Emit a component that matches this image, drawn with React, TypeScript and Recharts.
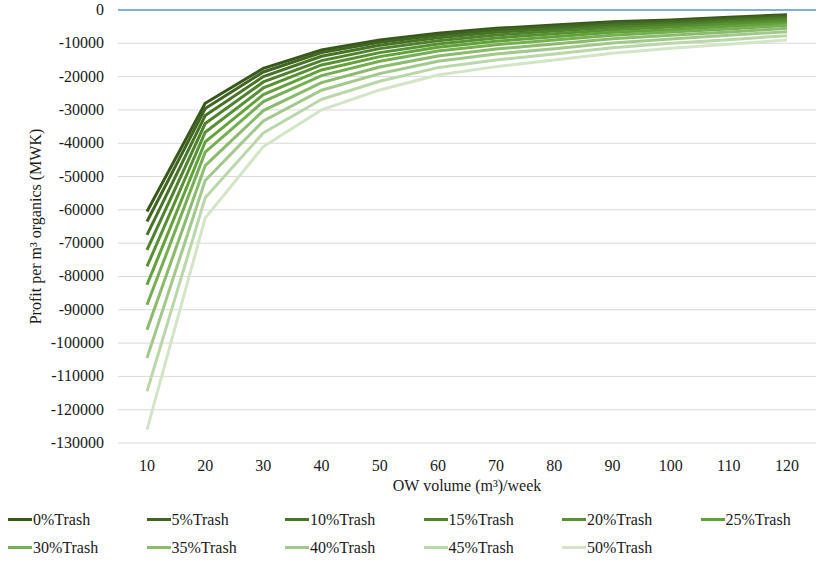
import React from 'react';
import { LineChart, Line, XAxis, YAxis, CartesianGrid, ReferenceLine } from 'recharts';

const volumes = [10, 20, 30, 40, 50, 60, 70, 80, 90, 100, 110, 120];
const seriesNames = ['0%Trash', '5%Trash', '10%Trash', '15%Trash', '20%Trash', '25%Trash', '30%Trash', '35%Trash', '40%Trash', '45%Trash', '50%Trash'];

const trash0 = [-60500, -28000, -17500, -12000, -9000, -7000, -5500, -4500, -3500, -3000, -2200, -1400];
const trash5 = [-63500, -29600, -18600, -12800, -9700, -7600, -6000, -5000, -3900, -3400, -2600, -1700];
const trash10 = [-67500, -31700, -20000, -13900, -10600, -8300, -6700, -5600, -4500, -3900, -3100, -2200];
const trash15 = [-72000, -34100, -21600, -15200, -11600, -9200, -7500, -6300, -5200, -4500, -3600, -2700];
const trash20 = [-77000, -36700, -23400, -16500, -12800, -10200, -8400, -7100, -5900, -5100, -4200, -3300];
const trash25 = [-82500, -39600, -25400, -18000, -14000, -11200, -9400, -8000, -6700, -5900, -4900, -4000];
const trash30 = [-88500, -42700, -27500, -19700, -15400, -12300, -10400, -9000, -7600, -6600, -5700, -4600];
const trash35 = [-96000, -46700, -30200, -21800, -17100, -13800, -11700, -10200, -8600, -7600, -6600, -5500];
const trash40 = [-104500, -51200, -33300, -24100, -19100, -15400, -13200, -11600, -9900, -8700, -7600, -6500];
const trash45 = [-114500, -56400, -36900, -26800, -21400, -17300, -15000, -13200, -11300, -10000, -8900, -7700];
const trash50 = [-126000, -62500, -41000, -30000, -24000, -19500, -17000, -15000, -13000, -11500, -10300, -9000];

const yTicks = [0, -10000, -20000, -30000, -40000, -50000, -60000, -70000, -80000, -90000, -100000, -110000, -120000, -130000];

const seriesValues = [trash0, trash5, trash10, trash15, trash20, trash25, trash30, trash35, trash40, trash45, trash50];
const colors = ['#38571a', '#3f6520', '#477326', '#4f822c', '#579133', '#62a23a', '#75ae53', '#8bbb6d', '#a2c98b', '#bad7a9', '#d2e5c6'];

const data = volumes.map((v, i) => {
  const row: Record<string, number | string> = { volume: String(v) };
  seriesNames.forEach((n, k) => {
    row[n] = seriesValues[k][i];
  });
  return row;
});

const font = '"Liberation Serif", "Times New Roman", serif';
const textColor = '#1a1a1a';

const XTick = (props: any) => {
  const { x, y, payload } = props;
  return (
    <text x={x} y={y + 20} textAnchor="middle" fontFamily={font} fontSize={16} fill={textColor}>
      {payload.value}
    </text>
  );
};

const YTick = (props: any) => {
  const { x, y, payload } = props;
  return (
    <text x={x - 6} y={y + 5} textAnchor="end" fontFamily={font} fontSize={16} fill={textColor}>
      {payload.value}
    </text>
  );
};

export default function App() {
  return (
    <div style={{ position: 'absolute', left: 0, top: 0, width: 829, height: 562, fontFamily: font, background: '#fff' }}>
      <LineChart width={829} height={562} data={data} margin={{ top: 10, right: 13, left: 0, bottom: 0 }} style={{ fontFamily: font }}>
        <CartesianGrid vertical={false} stroke="#d9d9d9" strokeWidth={1} />
        <XAxis
          dataKey="volume"
          height={119}
          axisLine={false}
          tickLine={false}
          padding={{ left: 29, right: 29 }}
          tick={<XTick />}
          interval={0}
          label={{ value: 'OW volume (m³)/week', position: 'insideTop', offset: 37, fill: textColor, fontSize: 16, fontFamily: font }}
        />
        <YAxis
          width={118}
          domain={[-130000, 0]}
          ticks={yTicks}
          interval={0}
          axisLine={false}
          tickLine={false}
          tick={<YTick />}
          label={{ value: 'Profit per m³ organics (MWK)', angle: -90, position: 'center', dx: -24, fill: textColor, fontSize: 16, fontFamily: font }}
        />
        <ReferenceLine y={0} stroke="#5b9bd5" strokeWidth={1.5} />
        {seriesNames.map((n, k) => (
          <Line key={n} type="linear" dataKey={n} stroke={colors[k]} strokeWidth={3} dot={false} isAnimationActive={false} />
        ))}
      </LineChart>
      <div style={{ position: 'absolute', left: 8, top: 508, width: 6 * 138.5, display: 'flex', flexWrap: 'wrap', rowGap: 5 }}>
        {seriesNames.map((n, k) => (
          <div key={n} style={{ width: 138.5, height: 23, display: 'flex', alignItems: 'center', fontSize: 16, color: textColor, fontFamily: font }}>
            <span style={{ display: 'inline-block', width: 24, height: 3, background: colors[k], marginRight: 1 }} />
            <span>{n}</span>
          </div>
        ))}
      </div>
    </div>
  );
}
